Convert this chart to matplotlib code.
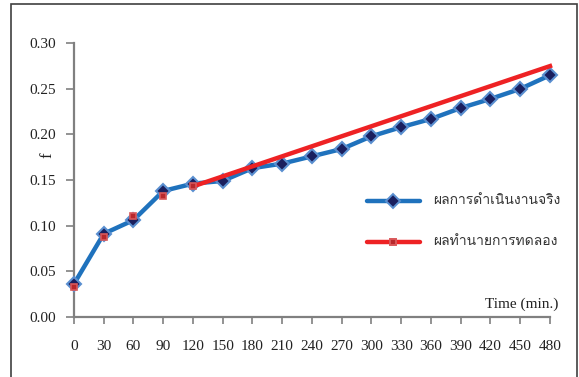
import matplotlib
matplotlib.use("Agg")
import matplotlib.pyplot as plt
from matplotlib import font_manager
from matplotlib.ft2font import FT2Font
from matplotlib.patches import Rectangle

time_min = [0, 30, 60, 90, 120, 150, 180, 210, 240, 270, 300, 330, 360, 390, 420, 450, 480]
actual_f = [0.036, 0.091, 0.106, 0.138, 0.146, 0.149, 0.163, 0.168, 0.176, 0.184, 0.198,
            0.208, 0.217, 0.229, 0.239, 0.250, 0.265]
pred_marker_time = [0, 30, 60, 90, 120]
pred_marker_f = [0.033, 0.087, 0.110, 0.132, 0.143]
pred_line_time = [120, 150, 180, 210, 240, 270, 300, 330, 360, 390, 420, 450, 480]
pred_line_f = [0.143, 0.154, 0.165, 0.176, 0.187, 0.198, 0.209, 0.220, 0.231, 0.242,
               0.253, 0.264, 0.275]
yticks = [0.00, 0.05, 0.10, 0.15, 0.20, 0.25, 0.30]
label_actual = "ผลการดำเนินงานจริง"
label_pred = "ผลทำนายการทดลอง"

# find a font with Thai glyphs
thai_font = None
for f in font_manager.fontManager.ttflist:
    try:
        ft = FT2Font(f.fname)
        if ft.get_char_index(0x0E1C) and ft.get_char_index(0x0E33):
            thai_font = f.name
            break
    except Exception:
        pass
thai_family = [thai_font, "DejaVu Sans"] if thai_font else ["DejaVu Sans"]

serif = "Liberation Serif"
gray = "#808080"
blue = "#1f72bd"
red = "#ee2224"

fig = plt.figure(figsize=(5.79, 3.77), dpi=100)
fig.patches.append(Rectangle((11/579, -0.05), (577-11)/579, 1.05 - 4/377, transform=fig.transFigure,
                             fill=False, edgecolor="#404040", linewidth=1.2))
ax = fig.add_axes([74/579, (377-316.7)/377, (550-74)/579, (316.7-43.3)/377])

ax.plot(time_min, actual_f, color=blue, lw=3.2, marker="D", markersize=7,
        markerfacecolor="#1a1f5e", markeredgecolor="#5a8fd0", markeredgewidth=1.5,
        clip_on=False, zorder=3)
ax.plot(pred_line_time, pred_line_f, color=red, lw=3.2, clip_on=False, zorder=4)
ax.plot(pred_marker_time, pred_marker_f, ls="none", marker="s", markersize=5,
        markerfacecolor="#b8282c", markeredgecolor="#d9585a", markeredgewidth=1.2,
        clip_on=False, zorder=5)

ax.set_xlim(0, 480)
ax.set_ylim(0, 0.30)
ax.set_xticks(time_min)
ax.set_xticklabels([str(t) for t in time_min], fontfamily=serif, fontsize=11, color="#222222")
ax.set_yticks(yticks)
ax.set_yticklabels([f"{v:.2f}" for v in yticks], fontfamily=serif, fontsize=11, color="#222222")
for s in ["top", "right"]:
    ax.spines[s].set_visible(False)
for s in ["left", "bottom"]:
    ax.spines[s].set_color(gray)
    ax.spines[s].set_linewidth(1.6)
ax.tick_params(axis="x", direction="out", length=5, width=1.2, color=gray, pad=12)
ax.tick_params(axis="y", direction="out", length=6, width=1.2, color=gray, pad=7)

ax.text(-(74 - 47) / 476, (316.7 - 155) / 273.4, "f", transform=ax.transAxes, rotation=90,
        fontfamily=serif, fontsize=12, ha="center", va="center", color="#222222")
ax.text(1.017, 0.02, "Time (min.)", transform=ax.transAxes, fontfamily=serif,
        fontsize=11, ha="right", va="bottom", color="#222222")

# legend drawn manually in axes-fraction coordinates
def legend_entry(y_px, color, marker, mfc, mec, text):
    y = (316.7 - y_px) / (316.7 - 43.3)
    x0 = (366.7 - 74) / 476
    x1 = (420 - 74) / 476
    ax.plot([x0, x1], [y, y], transform=ax.transAxes, color=color, lw=3.2,
            solid_capstyle="round", clip_on=False)
    ax.plot([(x0 + x1) / 2], [y], transform=ax.transAxes, marker=marker,
            markersize=7 if marker == "D" else 5, markerfacecolor=mfc,
            markeredgecolor=mec, markeredgewidth=1.4, clip_on=False)
    ax.text((433 - 74) / 476, y, text, transform=ax.transAxes, family=thai_family,
            fontsize=10, va="center", ha="left", color="#333333")

legend_entry(200.7, blue, "D", "#1a1f5e", "#5a8fd0", label_actual)
legend_entry(241.7, red, "s", "#b8282c", "#d9585a", label_pred)

fig.savefig("out.png", dpi=100)
